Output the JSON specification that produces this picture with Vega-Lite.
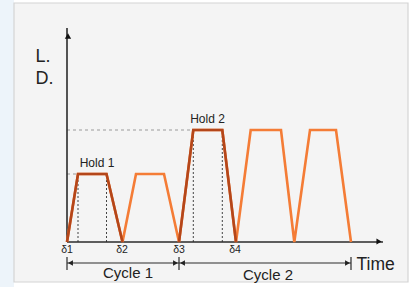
{
  "$schema": "https://vega.github.io/schema/vega-lite/v6.json",
  "width": 411,
  "height": 287,
  "autosize": {"type": "fit", "contains": "padding"},
  "padding": 0,
  "background": "#ffffff",
  "config": {"view": {"stroke": null}},
  "datasets": {
    "panel": [{"x0": -5.3, "x1": 34.1, "y0": -4.0, "y1": 23.9}],
    "strip": [{"x0": -6.7, "x1": -5.3, "y0": -4.5, "y1": 24.2}],
    "wave": [
      {"t": 0, "ld": 0}, {"t": 1.1, "ld": 6.8}, {"t": 3.95, "ld": 6.8}, {"t": 5.55, "ld": 0},
      {"t": 6.9, "ld": 6.8}, {"t": 9.7, "ld": 6.8}, {"t": 11.2, "ld": 0},
      {"t": 12.63, "ld": 11.2}, {"t": 15.53, "ld": 11.2}, {"t": 16.9, "ld": 0},
      {"t": 18.37, "ld": 11.2}, {"t": 21.4, "ld": 11.2}, {"t": 22.73, "ld": 0},
      {"t": 24.3, "ld": 11.2}, {"t": 26.9, "ld": 11.2}, {"t": 28.4, "ld": 0}
    ],
    "dark": [
      {"seg": "a", "t": 0, "ld": 0}, {"seg": "a", "t": 1.1, "ld": 6.8}, {"seg": "a", "t": 3.95, "ld": 6.8}, {"seg": "a", "t": 5.55, "ld": 0},
      {"seg": "b", "t": 11.2, "ld": 0}, {"seg": "b", "t": 12.63, "ld": 11.2}, {"seg": "b", "t": 15.53, "ld": 11.2}, {"seg": "b", "t": 16.9, "ld": 0}
    ],
    "hguide": [{"a": 0, "b": 1.1, "ld": 6.8}, {"a": 0, "b": 12.63, "ld": 11.2}],
    "vguide": [{"t": 1.1, "bot": 0, "top": 6.8}, {"t": 3.95, "bot": 0, "top": 6.8}, {"t": 12.63, "bot": 0, "top": 11.2}, {"t": 15.53, "bot": 0, "top": 11.2}],
    "axes": [{"a": 0, "b": 0, "c": 0, "d": 21.4}, {"a": 0, "b": 31.6, "c": 0, "d": 0}],
    "dim": [{"a": 0, "b": 28.4, "c": -2.1, "d": -2.1}, {"a": 0, "b": 0, "c": -1.5, "d": -2.8}, {"a": 11.2, "b": 11.2, "c": -1.5, "d": -2.8}, {"a": 28.4, "b": 28.4, "c": -1.5, "d": -2.8}],
    "arrL": [{"t": 0.35, "ld": -2.1}, {"t": 11.55, "ld": -2.1}],
    "arrR": [{"t": 10.85, "ld": -2.1}, {"t": 28.05, "ld": -2.1}],
    "axisUp": [{"t": 0.1, "ld": 20.6}],
    "axisRight": [{"t": 31.2, "ld": 0.05}],
    "ldlab": [{"label": "L.", "t": -3.15, "ld": 18.5}, {"label": "D.", "t": -3.15, "ld": 16.3}],
    "hold": [{"label": "Hold 1", "t": 3.0, "ld": 7.5}, {"label": "Hold 2", "t": 14.05, "ld": 11.9}],
    "delta": [{"label": "δ1", "t": 0, "ld": -0.8}, {"label": "δ2", "t": 5.5, "ld": -0.8}, {"label": "δ3", "t": 11.2, "ld": -0.8}, {"label": "δ4", "t": 16.8, "ld": -0.8}],
    "cycle": [{"label": "Cycle 1", "t": 6.1, "ld": -3.1}, {"label": "Cycle 2", "t": 20.1, "ld": -3.3}],
    "time": [{"label": "Time", "t": 28.95, "ld": -2.3}]
  },
  "encoding": {
    "x": {"type": "quantitative", "scale": {"domain": [-6.7, 34.4], "nice": false, "zero": false}, "axis": null},
    "y": {"type": "quantitative", "scale": {"domain": [-4.5, 24.2], "nice": false, "zero": false}, "axis": null}
  },
  "layer": [
    {
      "data": {"name": "strip"},
      "mark": {"type": "rect", "fill": "#edf4fa"},
      "encoding": {
        "x": {"field": "x0", "type": "quantitative"},
        "x2": {"field": "x1"},
        "y": {"field": "y0", "type": "quantitative"},
        "y2": {"field": "y1"}
      }
    },
    {
      "data": {"name": "panel"},
      "mark": {"type": "rect", "fill": "#f4f4f4", "stroke": "#d4d4d4", "strokeWidth": 1.2},
      "encoding": {
        "x": {"field": "x0", "type": "quantitative"},
        "x2": {"field": "x1"},
        "y": {"field": "y0", "type": "quantitative"},
        "y2": {"field": "y1"}
      }
    },
    {
      "data": {"name": "hguide"},
      "mark": {"type": "rule", "color": "#9a9a9a", "strokeWidth": 1, "strokeDash": [3, 3]},
      "encoding": {
        "x": {"field": "a", "type": "quantitative"},
        "x2": {"field": "b"},
        "y": {"field": "ld", "type": "quantitative"}
      }
    },
    {
      "data": {"name": "vguide"},
      "mark": {"type": "rule", "color": "#444444", "strokeWidth": 1, "strokeDash": [2, 2]},
      "encoding": {
        "x": {"field": "t", "type": "quantitative"},
        "y": {"field": "bot", "type": "quantitative"},
        "y2": {"field": "top"}
      }
    },
    {
      "data": {"name": "axes"},
      "mark": {"type": "rule", "color": "#2b2b2b", "strokeWidth": 1.6},
      "encoding": {
        "x": {"field": "a", "type": "quantitative"},
        "x2": {"field": "b"},
        "y": {"field": "c", "type": "quantitative"},
        "y2": {"field": "d"}
      }
    },
    {
      "data": {"name": "wave"},
      "mark": {"type": "line", "color": "#f47c36", "strokeWidth": 2.6, "strokeJoin": "miter"},
      "encoding": {
        "x": {"field": "t", "type": "quantitative"},
        "y": {"field": "ld", "type": "quantitative"}
      }
    },
    {
      "data": {"name": "dark"},
      "mark": {"type": "line", "color": "#b4461a", "strokeWidth": 2.6, "strokeJoin": "miter"},
      "encoding": {
        "x": {"field": "t", "type": "quantitative"},
        "y": {"field": "ld", "type": "quantitative"},
        "detail": {"field": "seg", "type": "nominal"}
      }
    },
    {
      "data": {"name": "dim"},
      "mark": {"type": "rule", "color": "#2b2b2b", "strokeWidth": 1.2},
      "encoding": {
        "x": {"field": "a", "type": "quantitative"},
        "x2": {"field": "b"},
        "y": {"field": "c", "type": "quantitative"},
        "y2": {"field": "d"}
      }
    },
    {
      "data": {"name": "arrL"},
      "mark": {"type": "point", "shape": "triangle-left", "filled": true, "color": "#222222", "size": 32, "opacity": 1},
      "encoding": {
        "x": {"field": "t", "type": "quantitative"},
        "y": {"field": "ld", "type": "quantitative"}
      }
    },
    {
      "data": {"name": "arrR"},
      "mark": {"type": "point", "shape": "triangle-right", "filled": true, "color": "#222222", "size": 32, "opacity": 1},
      "encoding": {
        "x": {"field": "t", "type": "quantitative"},
        "y": {"field": "ld", "type": "quantitative"}
      }
    },
    {
      "data": {"name": "axisUp"},
      "mark": {"type": "point", "shape": "triangle-up", "filled": true, "color": "#111111", "size": 40, "opacity": 1},
      "encoding": {
        "x": {"field": "t", "type": "quantitative"},
        "y": {"field": "ld", "type": "quantitative"}
      }
    },
    {
      "data": {"name": "axisRight"},
      "mark": {"type": "point", "shape": "triangle-right", "filled": true, "color": "#111111", "size": 35, "opacity": 1},
      "encoding": {
        "x": {"field": "t", "type": "quantitative"},
        "y": {"field": "ld", "type": "quantitative"}
      }
    },
    {
      "data": {"name": "ldlab"},
      "mark": {"type": "text", "align": "left", "baseline": "middle", "font": "Liberation Sans", "fontSize": 18, "color": "#222222"},
      "encoding": {
        "x": {"field": "t", "type": "quantitative"},
        "y": {"field": "ld", "type": "quantitative"},
        "text": {"field": "label", "type": "nominal"}
      }
    },
    {
      "data": {"name": "hold"},
      "mark": {"type": "text", "align": "center", "baseline": "alphabetic", "font": "Liberation Sans", "fontSize": 12, "color": "#222222"},
      "encoding": {
        "x": {"field": "t", "type": "quantitative"},
        "y": {"field": "ld", "type": "quantitative"},
        "text": {"field": "label", "type": "nominal"}
      }
    },
    {
      "data": {"name": "delta"},
      "mark": {"type": "text", "align": "center", "baseline": "middle", "font": "Liberation Sans", "fontSize": 10.5, "color": "#222222"},
      "encoding": {
        "x": {"field": "t", "type": "quantitative"},
        "y": {"field": "ld", "type": "quantitative"},
        "text": {"field": "label", "type": "nominal"}
      }
    },
    {
      "data": {"name": "cycle"},
      "mark": {"type": "text", "align": "center", "baseline": "middle", "font": "Liberation Sans", "fontSize": 15, "color": "#222222"},
      "encoding": {
        "x": {"field": "t", "type": "quantitative"},
        "y": {"field": "ld", "type": "quantitative"},
        "text": {"field": "label", "type": "nominal"}
      }
    },
    {
      "data": {"name": "time"},
      "mark": {"type": "text", "align": "left", "baseline": "middle", "font": "Liberation Sans", "fontSize": 17.5, "color": "#222222"},
      "encoding": {
        "x": {"field": "t", "type": "quantitative"},
        "y": {"field": "ld", "type": "quantitative"},
        "text": {"field": "label", "type": "nominal"}
      }
    }
  ]
}
